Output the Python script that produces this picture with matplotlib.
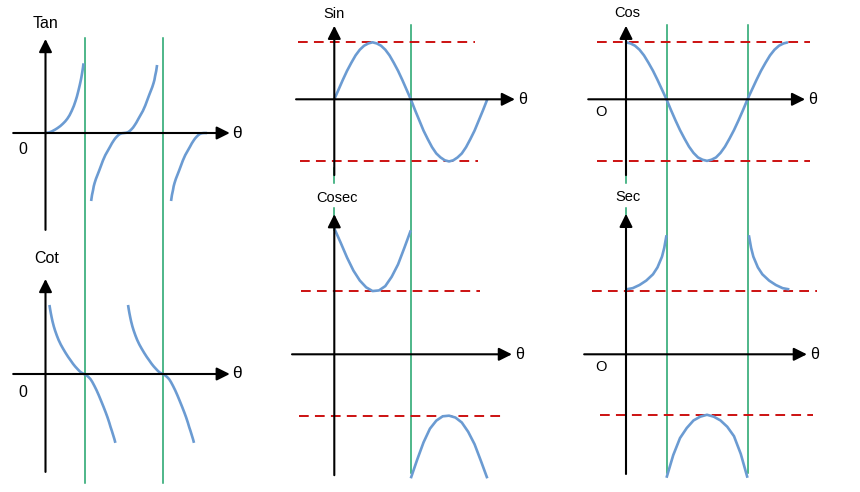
import matplotlib
matplotlib.use("Agg")
import matplotlib.pyplot as plt

# --- DATA (theta in degrees) ---
tan_b1_deg = [0, 8, 15, 22, 27, 34, 40, 45, 50, 55, 60, 65, 69, 72, 75, 78, 80, 82, 84, 86, 87]
tan_b1_val = [0, 0.03, 0.1, 0.2, 0.28, 0.41, 0.55, 0.68, 0.84, 1.04, 1.3, 1.6, 1.9, 2.15,
              2.45, 2.77, 3.0, 3.25, 3.55, 3.88, 4.1]
tan_b2_deg = [104.5, 106.5, 109, 110.5, 112.5, 115.5, 119, 122.5, 126, 131.5, 137, 142.5,
              148, 152, 156, 159.5, 163, 167, 171, 175, 180,
              185, 189, 193, 197, 200.5, 204, 208, 212, 217.5, 223, 228.5, 234, 237.5,
              241, 244.5, 247.5, 249.5, 251, 253.5, 255.5]
tan_b2_val = [-4.0, -3.65, -3.35, -3.13, -2.94, -2.7, -2.47, -2.24, -2.0, -1.62, -1.3, -1.05,
              -0.8, -0.61, -0.45, -0.32, -0.22, -0.12, -0.05, -0.015, 0,
              0.015, 0.05, 0.12, 0.22, 0.32, 0.45, 0.61, 0.8, 1.05, 1.3, 1.62, 2.0, 2.24,
              2.47, 2.7, 2.94, 3.13, 3.35, 3.65, 4.0]
tan_b3_deg = [287.5, 289.5, 292, 293.5, 295.5, 298.5, 302, 305.5, 309, 314.5, 320, 325.5,
              331, 335, 339, 342.5, 346, 350, 354, 358, 363, 370]
tan_b3_val = [-4.0, -3.65, -3.35, -3.13, -2.94, -2.7, -2.47, -2.24, -2.0, -1.62, -1.3, -1.05,
              -0.8, -0.61, -0.45, -0.32, -0.22, -0.12, -0.05, -0.015, 0, 0]

cot_b1_deg = [9, 10.5, 12, 14, 16, 19, 22, 26, 30, 35, 40, 46, 52, 57, 63, 68, 73, 77, 81, 85,
              88, 91, 95, 99, 103, 107, 112, 117, 122, 127, 133, 138, 142, 146, 149, 152, 155,
              158, 160]
cot_b2_deg = [189, 190.5, 192, 194, 196, 199, 202, 206, 210, 215, 220, 226, 232, 237, 243, 248,
              253, 257, 261, 265, 268, 271, 275, 279, 283, 287, 292, 297, 302, 307, 313, 318,
              322, 326, 329, 332, 335, 338, 340]
cot_val = [4.06, 3.82, 3.6, 3.34, 3.1, 2.8, 2.55, 2.26, 2.0, 1.73, 1.5, 1.24, 1.0, 0.82, 0.6,
           0.44, 0.3, 0.19, 0.1, 0.04, 0, -0.03, -0.1, -0.19, -0.3, -0.46, -0.7, -0.96, -1.25,
           -1.56, -1.94, -2.27, -2.55, -2.86, -3.12, -3.35, -3.6, -3.85, -4.05]

wave_deg = [0, 10, 20, 30, 40, 50, 60, 70, 80, 90, 100, 110, 120, 130, 140, 150, 160, 170, 180,
            190, 200, 210, 220, 230, 240, 250, 260, 270, 280, 290, 300, 310, 320, 330, 340,
            350, 360]
sin_val = [0, 0.17, 0.34, 0.5, 0.64, 0.77, 0.87, 0.94, 0.98, 1.0, 0.98, 0.94, 0.87, 0.77,
           0.64, 0.5, 0.34, 0.17, 0, -0.19, -0.37, -0.55, -0.7, -0.84, -0.95, -1.02, -1.07,
           -1.09, -1.07, -1.02, -0.95, -0.84, -0.7, -0.55, -0.37, -0.19, 0]
cos_val = [1.0, 0.98, 0.94, 0.87, 0.77, 0.64, 0.5, 0.34, 0.17, 0, -0.19, -0.37, -0.54, -0.69,
           -0.83, -0.94, -1.02, -1.06, -1.08, -1.06, -1.02, -0.94, -0.83, -0.69, -0.54, -0.37,
           -0.19, 0, 0.17, 0.34, 0.5, 0.64, 0.77, 0.87, 0.94, 0.98, 1.0]

cosec_b1_deg = [0, 15, 30, 45, 60, 75, 90, 105, 120, 135, 150, 165, 180]
cosec_b1_val = [2.03, 1.8, 1.56, 1.35, 1.19, 1.08, 1.02, 1.03, 1.1, 1.25, 1.45, 1.72, 2.0]
cosec_b2_deg = [180, 195, 210, 225, 240, 255, 270, 285, 300, 315, 330, 345, 360]
cosec_b2_val = [-2.0, -1.7, -1.42, -1.2, -1.07, -1.0, -0.99, -1.02, -1.1, -1.25, -1.45,
                -1.72, -2.0]

sec_b1_deg = [0, 15, 30, 45, 60, 70, 80, 85, 90]
sec_b1_val = [1.03, 1.05, 1.1, 1.17, 1.27, 1.38, 1.55, 1.69, 1.89]
sec_b2_deg = [90, 105, 120, 135, 150, 165, 180, 195, 210, 225, 240, 255, 270]
sec_b2_val = [-1.96, -1.6, -1.33, -1.17, -1.05, -0.99, -0.96, -0.99, -1.05, -1.15, -1.3,
              -1.58, -1.96]
sec_b3_deg = [273, 278, 283, 293, 303, 318, 333, 348, 363]
sec_b3_val = [1.89, 1.69, 1.55, 1.38, 1.27, 1.17, 1.1, 1.05, 1.03]

BLUE = '#6b9bd2'
GREEN = '#1ea36a'
RED = '#cc1111'

plt.rcParams['font.family'] = ['Liberation Sans', 'DejaVu Sans']

W, H = 860, 492
fig = plt.figure(figsize=(W / 100, H / 100), dpi=100)


def make_panel(ox, oy, sx, sy, z=2):
    # full-figure transparent axes, origin at pixel (ox, oy)
    ax = fig.add_axes([0, 0, 1, 1])
    ax.set_xlim(-ox / sx, (W - ox) / sx)
    ax.set_ylim((oy - H) / sy, oy / sy)
    ax.axis('off')
    ax.set_zorder(z)
    return ax


def draw_axes(ax, xr, yr, tsize):
    arrow = dict(arrowstyle='-|>,head_length=0.6,head_width=0.3', color='black',
                 lw=1.5, mutation_scale=13, shrinkA=0, shrinkB=0)
    ax.annotate('', xy=(0, yr[1]), xytext=(0, yr[0]), arrowprops=arrow, zorder=5)
    ax.annotate('', xy=(xr[1], 0), xytext=(xr[0], 0), arrowprops=arrow, zorder=5)
    ax.annotate('θ', xy=(xr[1], 0), xytext=(2, 0), textcoords='offset points',
                ha='left', va='center', fontsize=tsize)


def dashed(ax, y, x0, x1):
    ax.plot([x0, x1], [y, y], color=RED, lw=1.4, ls=(0, (5, 3.2)), zorder=1)


def curve(ax, xs, ys):
    ax.plot(xs, ys, color=BLUE, lw=1.9, solid_capstyle='butt', solid_joinstyle='round',
            zorder=3, clip_on=False)


# --- green guide lines (drawn first, under everything) ---
g_left = make_panel(45.5, 133, 0.4367, 17, z=1)
for t in [90, 270]:
    g_left.plot([t, t], [5.59, -20.6], color=GREEN, lw=1.1)
g_mid = make_panel(334.3, 99.3, 0.425, 57, z=1)
g_mid.plot([180, 180], [1.30, -6.56], color=GREEN, lw=1.1)
g_mid.plot([0, 0], [-1.2, -1.47], color=GREEN, lw=1.1)
g_mid.plot([0, 0], [-1.91, -2.3], color=GREEN, lw=1.1)
g_right = make_panel(626, 99.3, 0.45, 57, z=1)
for t in [90, 270]:
    g_right.plot([t, t], [1.30, -6.56], color=GREEN, lw=1.1)
g_right.plot([0, 0], [-1.2, -1.47], color=GREEN, lw=1.1)
g_right.plot([0, 0], [-1.91, -2.3], color=GREEN, lw=1.1)

# --- Tan ---
ax = make_panel(45.5, 133, 0.4367, 17)
draw_axes(ax, (-74, 422), (-5.7, 5.53), 12.5)
curve(ax, tan_b1_deg, tan_b1_val)
curve(ax, tan_b2_deg, tan_b2_val)
curve(ax, tan_b3_deg, tan_b3_val)
ax.text(-1, 6.47, 'Tan', ha='center', va='center', fontsize=11.5)
ax.text(-51.5, -1.0, '0', ha='center', va='center', fontsize=11.5)

# --- Cot ---
ax = make_panel(45.5, 374, 0.4367, 17)
draw_axes(ax, (-74, 422), (-5.76, 5.59), 12.5)
curve(ax, cot_b1_deg, cot_val)
curve(ax, cot_b2_deg, cot_val)
ax.text(3.4, 6.82, 'Cot', ha='center', va='center', fontsize=11.5)
ax.text(-51.5, -1.06, '0', ha='center', va='center', fontsize=11.5)

# --- Sin ---
ax = make_panel(334.3, 99.3, 0.425, 57)
dashed(ax, 1.0, -85.6, 331)
dashed(ax, -1.09, -80.7, 338)
draw_axes(ax, (-90, 425), (-1.33, 1.29), 11.5)
curve(ax, wave_deg, sin_val)
ax.text(-0.7, 1.5, 'Sin', ha='center', va='center', fontsize=10.5)

# --- Cosec ---
ax = make_panel(334.3, 354.3, 0.425, 62)
dashed(ax, 1.02, -78, 343)
dashed(ax, -0.99, -83, 402)
draw_axes(ax, (-99.5, 418), (-1.95, 2.26), 11.5)
curve(ax, cosec_b1_deg, cosec_b1_val)
curve(ax, cosec_b2_deg, cosec_b2_val)
ax.text(6, 2.52, 'Cosec', ha='center', va='center', fontsize=10.5)

# --- Cos ---
ax = make_panel(626, 99.3, 0.45, 57)
dashed(ax, 1.0, -64, 409)
dashed(ax, -1.08, -64, 409)
draw_axes(ax, (-84, 398), (-1.33, 1.29), 11.5)
curve(ax, wave_deg, cos_val)
ax.text(2, 1.51, 'Cos', ha='center', va='center', fontsize=10.5)
ax.text(-55.5, -0.22, 'O', ha='center', va='center', fontsize=10.5)

# --- Sec ---
ax = make_panel(626, 354.3, 0.45, 63)
dashed(ax, 1.01, -75.5, 424)
dashed(ax, -0.96, -58, 415)
draw_axes(ax, (-93, 402), (-1.9, 2.23), 11.5)
curve(ax, sec_b1_deg, sec_b1_val)
curve(ax, sec_b2_deg, sec_b2_val)
curve(ax, sec_b3_deg, sec_b3_val)
ax.text(4.4, 2.5, 'Sec', ha='center', va='center', fontsize=10.5)
ax.text(-55.5, -0.2, 'O', ha='center', va='center', fontsize=10.5)

fig.savefig('out.png', dpi=100, facecolor='white')
